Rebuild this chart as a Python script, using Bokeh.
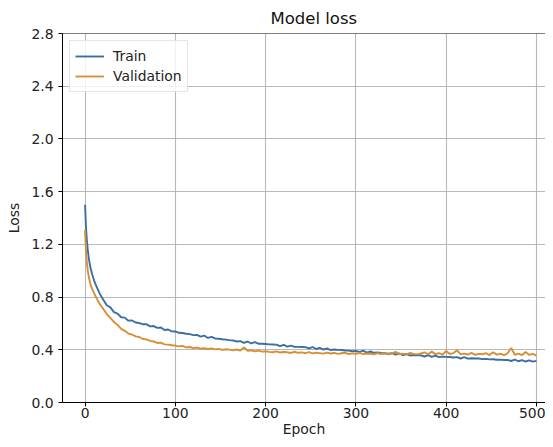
from bokeh.plotting import figure
from bokeh.models import Range1d, FixedTicker, PrintfTickFormatter, Span, Legend, LegendItem, ColumnDataSource
from bokeh.embed import file_html
from bokeh.resources import INLINE

# ---------------- data ----------------
epochs_early = [0, 1, 2, 3, 4, 5, 6, 7, 8, 10, 12, 14, 16, 18]
train_early = [1.50, 1.33, 1.23, 1.16, 1.10, 1.06, 1.02, 0.995, 0.97, 0.925, 0.89, 0.86, 0.83, 0.805]
val_early = [1.31, 1.15, 1.06, 1.00, 0.96, 0.925, 0.90, 0.875, 0.86, 0.83, 0.80, 0.775, 0.75, 0.73]

epochs_late = list(range(20, 501, 4))
train_late = [
    0.781, 0.738, 0.722, 0.686, 0.675, 0.647, 0.644, 0.621, 0.622, 0.607,
    0.603, 0.594, 0.595, 0.578, 0.580, 0.566, 0.569, 0.550, 0.554, 0.540,
    0.539, 0.529, 0.527, 0.522, 0.519, 0.511, 0.513, 0.500, 0.508, 0.490,
    0.498, 0.486, 0.484, 0.480, 0.477, 0.473, 0.471, 0.463, 0.466, 0.453,
    0.463, 0.448, 0.458, 0.446, 0.446, 0.444, 0.441, 0.440, 0.439, 0.428,
    0.438, 0.424, 0.431, 0.422, 0.422, 0.421, 0.420, 0.410, 0.421, 0.406,
    0.414, 0.402, 0.410, 0.398, 0.402, 0.399, 0.398, 0.395, 0.394, 0.389,
    0.392, 0.383, 0.393, 0.378, 0.387, 0.377, 0.379, 0.376, 0.375, 0.371,
    0.374, 0.364, 0.372, 0.359, 0.368, 0.357, 0.360, 0.358, 0.358, 0.349,
    0.359, 0.346, 0.355, 0.344, 0.348, 0.346, 0.345, 0.341, 0.344, 0.334,
    0.344, 0.333, 0.336, 0.334, 0.334, 0.329, 0.331, 0.327, 0.328, 0.324,
    0.325, 0.322, 0.323, 0.315, 0.325, 0.313, 0.322, 0.311, 0.320, 0.310,
    0.316,
]
val_late = [
    0.712, 0.671, 0.642, 0.611, 0.589, 0.558, 0.544, 0.523, 0.516, 0.502,
    0.497, 0.482, 0.479, 0.468, 0.463, 0.452, 0.454, 0.441, 0.439, 0.434,
    0.432, 0.426, 0.429, 0.418, 0.421, 0.413, 0.417, 0.409, 0.412, 0.406,
    0.411, 0.403, 0.407, 0.399, 0.404, 0.401, 0.396, 0.402, 0.394, 0.417,
    0.393, 0.396, 0.388, 0.394, 0.386, 0.389, 0.384, 0.381, 0.388, 0.379,
    0.383, 0.381, 0.376, 0.385, 0.377, 0.380, 0.374, 0.382, 0.373, 0.378,
    0.375, 0.371, 0.379, 0.372, 0.376, 0.369, 0.374, 0.377, 0.368, 0.373,
    0.370, 0.376, 0.367, 0.372, 0.369, 0.366, 0.374, 0.368, 0.371, 0.365,
    0.372, 0.384, 0.366, 0.371, 0.364, 0.376, 0.368, 0.365, 0.372, 0.381,
    0.366, 0.386, 0.367, 0.374, 0.363, 0.391, 0.368, 0.375, 0.396, 0.365,
    0.371, 0.364, 0.377, 0.362, 0.369, 0.366, 0.374, 0.360, 0.381, 0.363,
    0.370, 0.359, 0.373, 0.414, 0.362, 0.371, 0.360, 0.383, 0.361, 0.369,
    0.356,
]

epochs = epochs_early + epochs_late
train_loss = train_early + train_late
val_loss = val_early + val_late

x_ticks = [0, 100, 200, 300, 400, 500]
y_ticks = [0.0, 0.4, 0.8, 1.2, 1.6, 2.0, 2.4, 2.8]

# ---------------- figure ----------------
FONT = "DejaVu Sans"
p = figure(width=545, height=439, output_backend="svg", toolbar_location=None,
           x_range=Range1d(-25, 510), y_range=Range1d(0, 2.8),
           min_border_left=62, min_border_right=0, min_border_top=10, min_border_bottom=10)
p.background_fill_color = "white"
p.border_fill_color = "white"
p.outline_line_color = None

p.title.text = "Model loss"
p.title.align = "left"
p.title.offset = 208
p.title.text_font = FONT
p.title.text_font_size = "16.5px"
p.title.text_font_style = "normal"
p.title.text_color = "#111111"
p.title.standoff = 12

src = ColumnDataSource(dict(epoch=epochs, train=train_loss, val=val_loss))
r1 = p.line("epoch", "train", source=src, line_color="#3b6ea5", line_width=1.9)
r2 = p.line("epoch", "val", source=src, line_color="#d68f35", line_width=1.9)

for ax in (p.xaxis[0], p.yaxis[0]):
    ax.axis_line_color = "black"
    ax.axis_line_width = 1
    ax.major_tick_line_color = "black"
    ax.major_tick_out = 4
    ax.major_tick_in = 0
    ax.minor_tick_line_color = None
    ax.major_label_text_font = FONT
    ax.major_label_text_font_size = "13.9px"
    ax.major_label_text_color = "#222222"
    ax.axis_label_text_font = FONT
    ax.axis_label_text_font_size = "13.9px"
    ax.axis_label_text_font_style = "normal"
    ax.axis_label_text_color = "#222222"

p.xaxis.major_label_standoff = 1
p.yaxis.major_label_standoff = 5
p.xaxis.axis_label = "Epoch"
p.yaxis.axis_label = "Loss"
p.xaxis.ticker = FixedTicker(ticks=x_ticks)
p.yaxis.ticker = FixedTicker(ticks=y_ticks)
p.yaxis.formatter = PrintfTickFormatter(format="%.1f")
p.xaxis.axis_label_standoff = 0
p.yaxis.axis_label_standoff = 6

p.xgrid.ticker = FixedTicker(ticks=x_ticks)
p.ygrid.ticker = FixedTicker(ticks=y_ticks)
for g in (p.xgrid[0], p.ygrid[0]):
    g.grid_line_color = "#b0b0b0"
    g.grid_line_width = 1.1
    g.grid_line_alpha = 0.9

p.add_layout(Span(location=2.8, dimension="width", line_color="black", line_width=1.2))

legend = Legend(items=[LegendItem(label="Train", renderers=[r1]),
                       LegendItem(label="Validation", renderers=[r2])],
                location="top_left")
legend.margin = 7
legend.padding = 5
legend.spacing = 0
legend.label_height = 20
legend.glyph_height = 18
legend.glyph_width = 29
legend.label_standoff = 9
legend.label_text_font = FONT
legend.label_text_font_size = "13.9px"
legend.label_text_color = "#222222"
legend.border_line_color = "#cccccc"
legend.border_line_width = 1
legend.background_fill_color = "white"
legend.background_fill_alpha = 0.8
p.add_layout(legend, "center")

open("out.html", "w").write(file_html(p, INLINE))
